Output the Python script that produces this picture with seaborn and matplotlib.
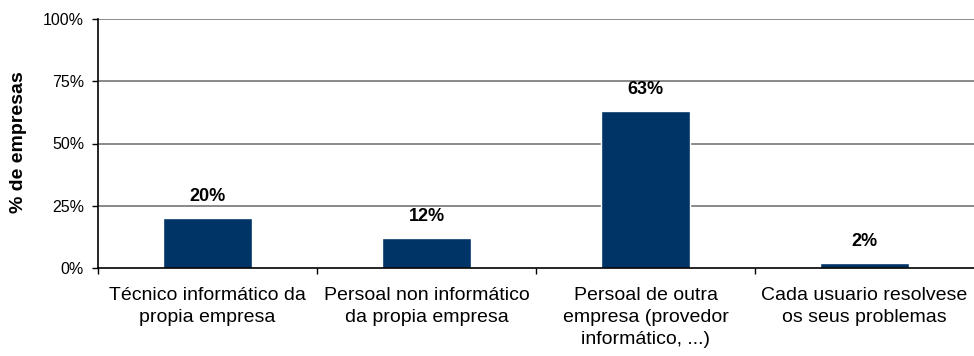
import matplotlib
matplotlib.use("Agg")
import matplotlib.pyplot as plt
import seaborn as sns
import pandas as pd
from matplotlib.ticker import FixedLocator

categories = [
    "Técnico informático da\npropia empresa",
    "Persoal non informático\nda propia empresa",
    "Persoal de outra\nempresa (provedor\ninformático, ...)",
    "Cada usuario resolvese\nos seus problemas",
]
values = [20, 12, 63, 2]
value_labels = ["20%", "12%", "63%", "2%"]
y_ticks = [0, 25, 50, 75, 100]
y_tick_labels = ["0%", "25%", "50%", "75%", "100%"]
y_title = "% de empresas"

sns.set_theme(style="white")
plt.rcParams["font.family"] = ["Liberation Sans", "DejaVu Sans"]

df = pd.DataFrame({"categoria": categories, "valor": values})

fig = plt.figure(figsize=(9.74, 3.56), dpi=100)
ax = fig.add_axes([98 / 974, 1 - 268 / 356, 1 - 98 / 974, (268 - 19) / 356])

sns.barplot(data=df, x="categoria", y="valor", color="#003366",
            width=0.405, saturation=1, ax=ax, zorder=3)

ax.set_xlim(-0.5, 3.5)
ax.set_ylim(0, 100)

# horizontal gridlines
for yv in y_ticks[1:]:
    ax.axhline(yv, color="#808080", lw=1.3, zorder=1)

ax.set_yticks(y_ticks)
ax.set_yticklabels(y_tick_labels, fontsize=11.5, color="black")
ax.tick_params(axis="y", which="major", direction="out", length=4,
               width=1, color="black", left=True, pad=6)

ax.set_xticks(range(len(categories)))
ax.set_xticklabels(categories, fontsize=14, color="black", linespacing=1.38)
ax.tick_params(axis="x", which="major", length=0, pad=14)
ax.xaxis.set_minor_locator(FixedLocator([-0.5, 0.5, 1.5, 2.5]))
ax.tick_params(axis="x", which="minor", direction="out", length=4,
               width=1, color="black", bottom=True)

ax.set_xlabel("")
ax.set_ylabel("")

for s in ["top", "right"]:
    ax.spines[s].set_visible(False)
for s in ["left", "bottom"]:
    ax.spines[s].set_color("black")
    ax.spines[s].set_linewidth(1.2)
    ax.spines[s].set_zorder(4)

for i, (v, lab) in enumerate(zip(values, value_labels)):
    ax.annotate(lab, xy=(i, v), xytext=(0, 22), textcoords="offset pixels",
                ha="center", va="center", fontsize=13, fontweight="bold",
                color="black")

fig.text(19 / 974, 1 - 142 / 356, y_title, rotation=90, ha="center",
         va="center", fontsize=14, fontweight="bold", color="black")

fig.savefig("out.png", dpi=100, facecolor="white")
